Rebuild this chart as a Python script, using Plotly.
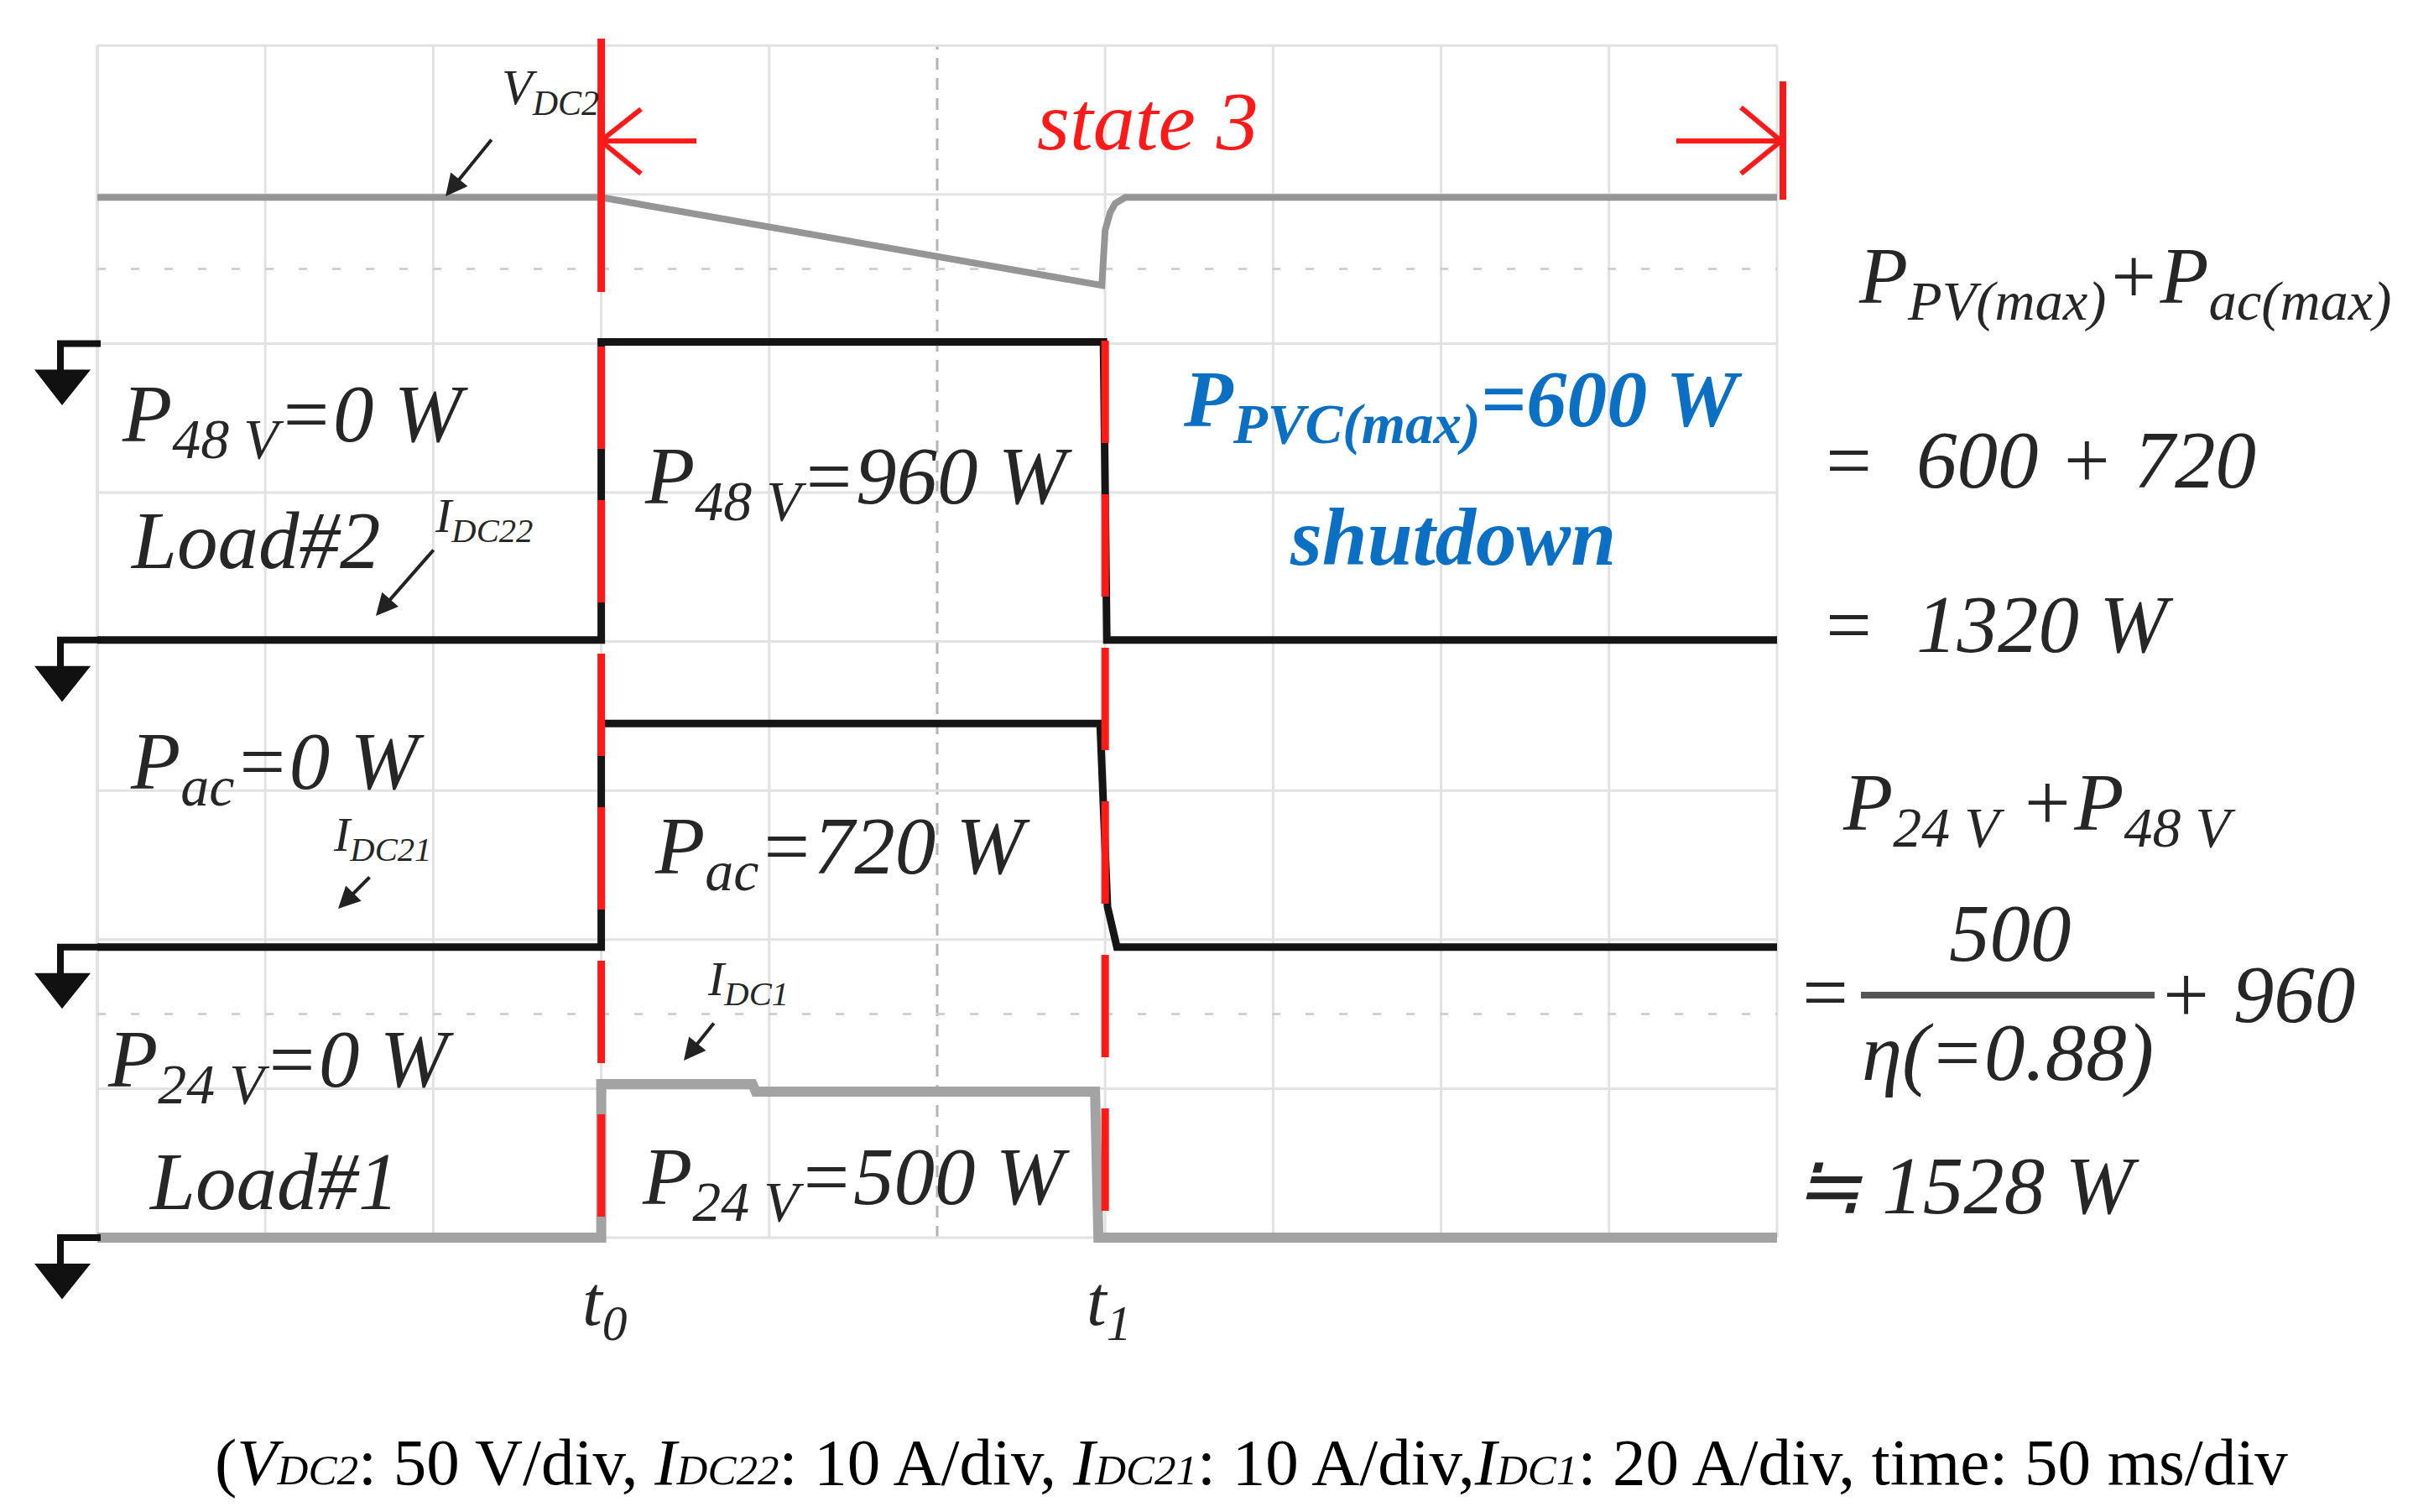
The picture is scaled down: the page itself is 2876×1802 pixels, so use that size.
import plotly.graph_objects as go

# ---- oscilloscope waveforms (time in ms, 50 ms/div) ----
t_vdc2 = [0, 150, 299, 300, 301.5, 303, 306, 500]
v_dc2 = [49, 49, 19.5, 38, 44, 47, 49, 49]            # V, 50 V/div

t_idc22 = [0, 150, 150, 299.5, 300.5, 500]
i_dc22 = [0, 0, 20, 20, 0, 0]                          # A, 10 A/div

t_idc21 = [0, 150, 150, 298.5, 300.7, 303.5, 500]
i_dc21 = [0, 0, 15, 15, 2.7, 0, 0]                     # A, 10 A/div

t_idc1 = [0, 150, 150, 195, 196, 297, 298, 500]
i_dc1 = [0, 0, 20.6, 20.6, 19.6, 19.6, 0, 0]           # A, 20 A/div

# ground marker (div) and scale (unit/div) of each channel
ch_offset = {"vdc2": 6.0, "idc22": 4.01, "idc21": 1.95, "idc1": 0.0}
ch_scale = {"vdc2": 50, "idc22": 10, "idc21": 10, "idc1": 20}

t_events = [150, 300]
event_labels = ["t<sub>0</sub>", "t<sub>1</sub>"]

# ---- page geometry ----
W, H = 2876, 1802
GX0, DIVW = 108, 200.2
GY1, DIVH = 1467, 177.6
MS_DIV = 50
NX, NY = 10, 8


def X(px):
    return (px - GX0) / DIVW * MS_DIV


def Y(py):
    return (GY1 - py) / DIVH


def scr(key, vals):
    return [ch_offset[key] + v / ch_scale[key] for v in vals]


fig = go.Figure()

traces = [
    (t_vdc2, scr("vdc2", v_dc2), "#959595", 8),
    (t_idc22, scr("idc22", i_dc22), "#151515", 9),
    (t_idc21, scr("idc21", i_dc21), "#151515", 9),
    (t_idc1, scr("idc1", i_dc1), "#a3a3a3", 12),
]
for tx, ty, col, w in traces:
    fig.add_trace(go.Scatter(x=tx, y=ty, mode="lines", line=dict(color=col, width=w),
                             hoverinfo="skip", showlegend=False))

shapes = []
# graticule
for i in range(NX + 1):
    x = i * MS_DIV
    if i == 5:
        shapes.append(dict(type="line", x0=x, x1=x, y0=0, y1=NY, layer="below",
                           line=dict(color="#b5b5b5", width=3, dash="14px,10px")))
    else:
        shapes.append(dict(type="line", x0=x, x1=x, y0=0, y1=NY, layer="below",
                           line=dict(color="#e2e2e2", width=4 if i == 0 else 3)))
for j in range(NY + 1):
    shapes.append(dict(type="line", x0=0, x1=NX * MS_DIV, y0=j, y1=j, layer="below",
                       line=dict(color="#e2e2e2", width=3)))
for yd in (6.5, 1.5):
    shapes.append(dict(type="line", x0=0, x1=NX * MS_DIV, y0=yd, y1=yd, layer="below",
                       line=dict(color="#d0d0d0", width=3, dash="10px,30px")))

# red event markers
RED = "#ff1a1a"
shapes.append(dict(type="line", x0=t_events[0], x1=t_events[0], y0=Y(38), y1=Y(340),
                   line=dict(color=RED, width=9)))
for t, top in zip(t_events, (405, 398)):
    shapes.append(dict(type="line", x0=t, x1=t, y0=Y(top), y1=Y(1446),
                       line=dict(color=RED, width=9, dash="122px,61px")))

# state 3 bracket arrows
ay_ = 160
shapes += [
    dict(type="line", x0=X(708), x1=X(822), y0=Y(ay_), y1=Y(ay_), line=dict(color=RED, width=6)),
    dict(type="line", x0=X(708), x1=X(756), y0=Y(ay_), y1=Y(122), line=dict(color=RED, width=6)),
    dict(type="line", x0=X(708), x1=X(756), y0=Y(ay_), y1=Y(199), line=dict(color=RED, width=6)),
    dict(type="line", x0=X(1990), x1=X(2115), y0=Y(ay_), y1=Y(ay_), line=dict(color=RED, width=6)),
    dict(type="line", x0=X(2115), x1=X(2067), y0=Y(ay_), y1=Y(120), line=dict(color=RED, width=6)),
    dict(type="line", x0=X(2115), x1=X(2067), y0=Y(ay_), y1=Y(199), line=dict(color=RED, width=6)),
    dict(type="line", x0=X(2117), x1=X(2117), y0=Y(89), y1=Y(230), line=dict(color=RED, width=8)),
]

# ground markers
for key in ("vdc2", "idc22", "idc21", "idc1"):
    py = GY1 - ch_offset[key] * DIVH
    shapes.append(dict(type="path",
                       path=f"M {X(112)},{Y(py)} L {X(64)},{Y(py)} L {X(64)},{Y(py + 36)}",
                       line=dict(color="#111", width=8)))
    shapes.append(dict(type="path",
                       path=f"M {X(35)},{Y(py + 32)} L {X(98)},{Y(py + 32)} L {X(66)},{Y(py + 72)} Z",
                       fillcolor="#111", line=dict(color="#111", width=2)))

# fraction bar
shapes.append(dict(type="line", x0=X(2210), x1=X(2560), y0=Y(1178), y1=Y(1178),
                   line=dict(color="#555", width=8)))

annotations = []
SERIF = "Liberation Serif"
TXT = "#262626"
BLUE = "#0b70c4"


def label(text, px, py, size=97, color=TXT, anchor="left"):
    annotations.append(dict(x=X(px), y=Y(py), text=text, showarrow=False,
                            xanchor=anchor, yanchor="middle",
                            font=dict(family=SERIF, size=size, color=color)))


def arrow(hx, hy, tx, ty):
    annotations.append(dict(x=X(hx), y=Y(hy), ax=tx - hx, ay=ty - hy, text="",
                            showarrow=True, arrowhead=2, arrowsize=1.3, arrowwidth=4,
                            arrowcolor="#222"))


label("<i>state 3</i>", 1226, 136, size=100, color=RED)

label("<i>V<sub>DC2</sub></i>", 588, 100, size=60)
arrow(523, 226, 579, 157)
label("<i>I<sub>DC22</sub></i>", 508, 610, size=58)
arrow(440, 726, 510, 646)
label("<i>I<sub>DC21</sub></i>", 387, 990, size=58)
arrow(395, 1075, 434, 1036)
label("<i>I<sub>DC1</sub></i>", 833, 1162, size=58)
arrow(807, 1256, 844, 1210)

label("<i>P<sub>48 V</sub>=0 W</i>", 135, 492)
label("<i>Load#2</i>", 145, 636)
label("<i>P<sub>ac</sub>=0 W</i>", 145, 906)
label("<i>P<sub>24 V</sub>=0 W</i>", 118, 1261)
label("<i>Load#1</i>", 167, 1400)

label("<i>P<sub>48 V</sub>=960 W</i>", 758, 566)
label("<i>P<sub>ac</sub>=720 W</i>", 770, 1007)
label("<i>P<sub>24 V</sub>=500 W</i>", 755, 1401)

label("<b><i>P<sub>PVC(max)</sub>=600 W</i></b>", 1400, 474, size=96, color=BLUE)
label("<b><i>shutdown</i></b>", 1527, 632, color=BLUE)

label("<i>P<sub>PV(max)</sub>+P<sub>ac(max)</sub></i>", 2205, 328, size=95)
label("<i>=  600 + 720</i>", 2160, 540)
label("<i>=  1320 W</i>", 2160, 736)
label("<i>P<sub>24 V</sub> +P<sub>48 V</sub></i>", 2186, 955)
label("<i>=</i>", 2132, 1174)
label("<i>500</i>", 2388, 1104, anchor="center")
label("<i>η(=0.88)</i>", 2385, 1246, anchor="center")
label("<i>+ 960</i>", 2562, 1177)
label("<i>≒ 1528 W</i>", 2128, 1405)

for t, lab in zip(t_events, event_labels):
    label("<i>" + lab + "</i>", GX0 + t / MS_DIV * DIVW + 4, 1548, size=85, anchor="center")

sm = "<span style='font-size:51px'>"
caption = ("(<i>V" + sm + "DC2</span></i>: 50 V/div, <i>I" + sm + "DC22</span></i>: 10 A/div, "
           "<i>I" + sm + "DC21</span></i>: 10 A/div,<i>I" + sm + "DC1</span></i>: 20 A/div, "
           "time: 50 ms/div")
annotations.append(dict(x=X(246), y=Y(1734), text=caption, showarrow=False,
                        xanchor="left", yanchor="middle",
                        font=dict(family=SERIF, size=79, color="#000")))

fig.update_layout(
    width=W, height=H,
    margin=dict(l=0, r=0, t=0, b=0),
    paper_bgcolor="white", plot_bgcolor="white",
    xaxis=dict(range=[X(0), X(W)], visible=False, fixedrange=True),
    yaxis=dict(range=[Y(H), Y(0)], visible=False, fixedrange=True),
    shapes=shapes, annotations=annotations,
    showlegend=False,
)

fig.write_html("out.html")
